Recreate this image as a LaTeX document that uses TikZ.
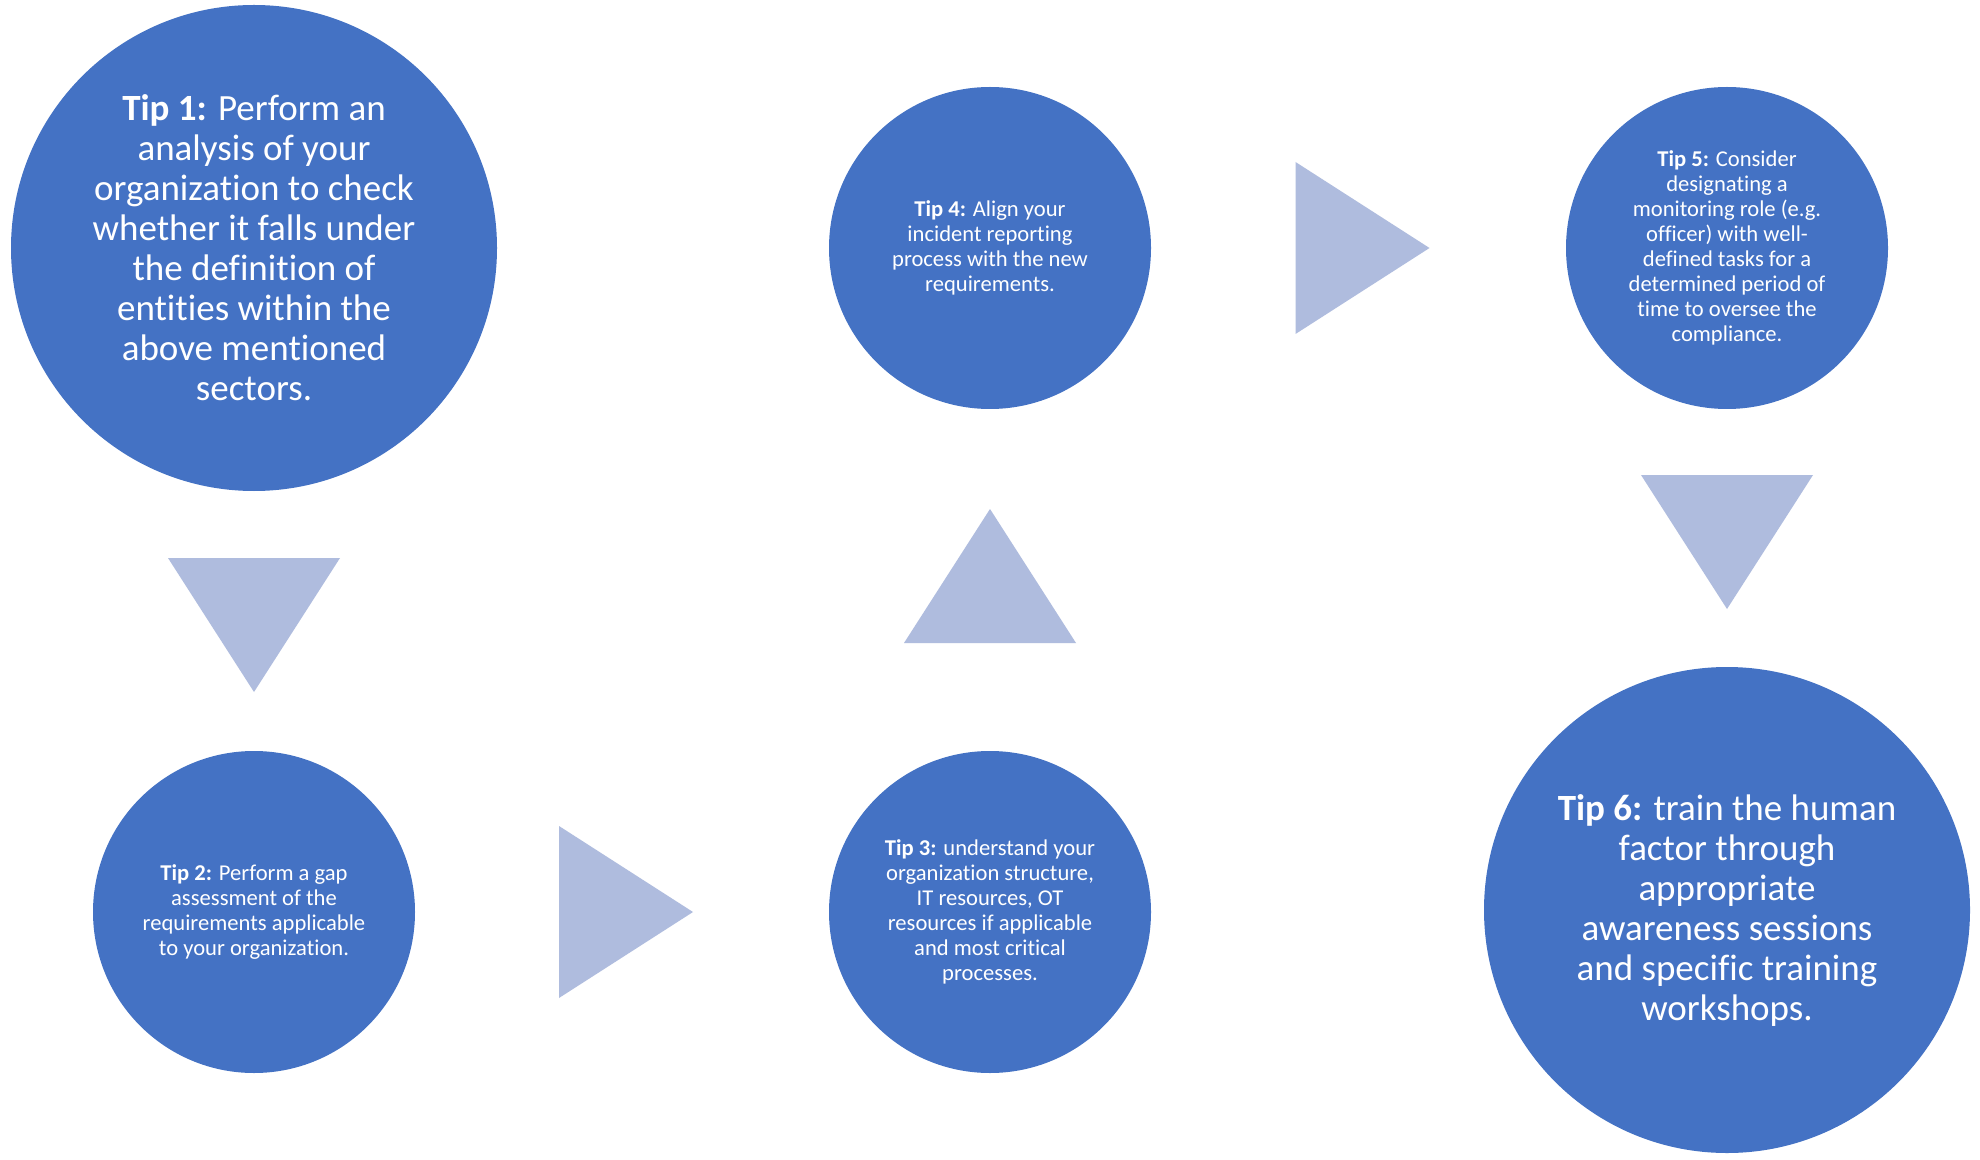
\documentclass[tikz,border=0pt]{standalone}
\usepackage{fontspec}
\setmainfont[Ligatures=NoCommon]{Carlito}
\usetikzlibrary{calc}
\definecolor{tipblue}{HTML}{4472C4}
\definecolor{triblue}{HTML}{AFBCDE}

\begin{document}
\begin{tikzpicture}[
    x=0.5pt, y=-0.5pt,
    bigtip/.style={circle, fill=tipblue, inner sep=0pt, minimum size=243pt, align=center, text=white, font=\fontsize{18.5}{20}\selectfont},
    smalltip/.style={circle, fill=tipblue, inner sep=0pt, minimum size=161pt, align=center, text=white, font=\fontsize{11.3}{12.5}\selectfont},
    tri/.style={fill=triblue}
]
    \useasboundingbox[fill=white] (0,0) rectangle (1980,1160);

    \node[bigtip] (t1) at (254,248) {\textbf{Tip 1:} Perform an\\analysis of your\\organization to check\\whether it falls under\\the definition of\\entities within the\\above mentioned\\sectors.};
    \node[smalltip] (t2) at (254,912) {\textbf{Tip 2:} Perform a gap\\assessment of the\\requirements applicable\\to your organization.};
    \node[smalltip] (t3) at (990,912) {\textbf{Tip 3:} understand your\\organization structure,\\IT resources, OT\\resources if applicable\\and most critical\\processes.};
    \node[smalltip] (t4) at (990,248) {\textbf{Tip 4:} Align your\\incident reporting\\process with the new\\requirements.};
    \node[smalltip] (t5) at (1727,248) {\textbf{Tip 5:} Consider\\designating a\\monitoring role (e.g.\\officer) with well-\\defined tasks for a\\determined period of\\time to oversee the\\compliance.};
    \node[bigtip] (t6) at (1727,910) {\textbf{Tip 6:} train the human\\factor through\\appropriate\\awareness sessions\\and specific training\\workshops.};

    % triangle arrows between the circles
    \coordinate (a12) at ($(t1.south)!0.5!(t2.north)+(0,4)$);
    \coordinate (a23) at ($(t2.east)!0.5!(t3.west)+(4,0)$);
    \coordinate (a34) at ($(t3.north)!0.5!(t4.south)+(0,-4)$);
    \coordinate (a45) at ($(t4.east)!0.5!(t5.west)+(4,0)$);
    \coordinate (a56) at ($(t5.south)!0.5!(t6.north)+(0,4)$);

    \foreach \c/\r in {a12/-90, a23/0, a34/90, a45/0, a56/-90}
        \fill[tri, shift={(\c)}, rotate=\r] (-67,-86) -- (67,0) -- (-67,86) -- cycle;
\end{tikzpicture}
\end{document}
